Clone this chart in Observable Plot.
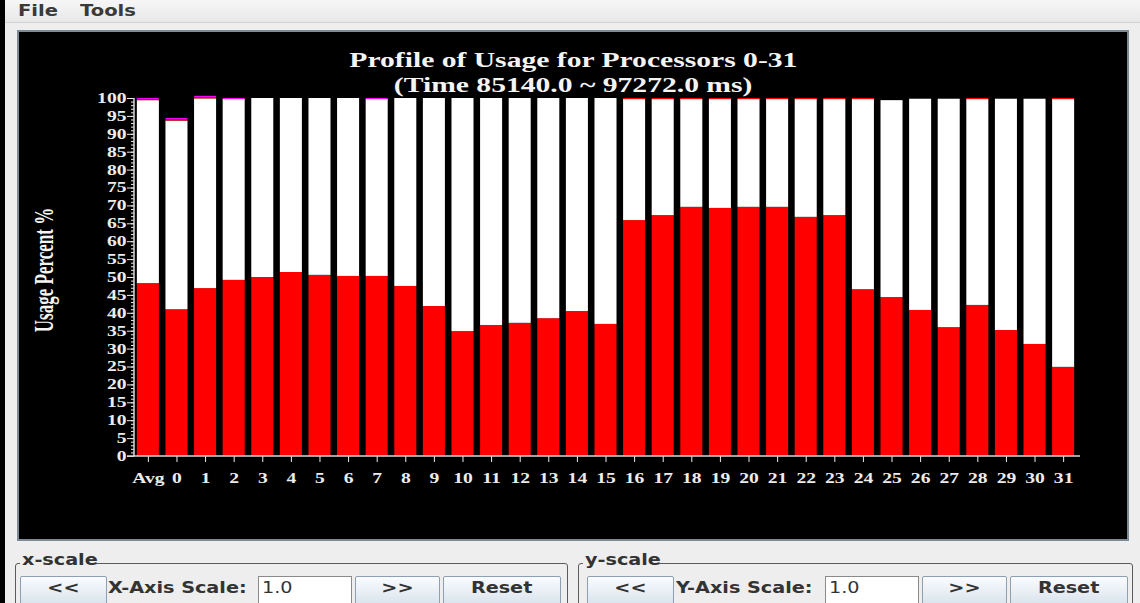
<!DOCTYPE html>
<html>
<head>
<meta charset="utf-8">
<script src="https://cdn.jsdelivr.net/npm/d3@7"></script>
<script src="https://cdn.jsdelivr.net/npm/@observablehq/plot@0.6"></script>
<style>
  html, body { margin: 0; padding: 0; width: 1140px; height: 603px; overflow: hidden; background: #eeeeee; font-family: "DejaVu Sans", sans-serif; }
  .abs { position: absolute; }
  #strip { left: 0; top: 0; width: 5px; height: 603px; background: #000; }
  #menu { left: 5px; top: 0; width: 1135px; height: 22px; background: linear-gradient(#f6f6f6, #e8e8e8); border-bottom: 1px solid #d2d2d2; }
  .mi { top: 0; line-height: 22px; font-weight: bold; font-size: 16px; color: #3a3a3a; transform: scaleX(1.22); transform-origin: left center; white-space: nowrap; }
  #panel { left: 17px; top: 30px; width: 1108px; height: 507px; background: #000; border: 2px solid #7d8b97; }
  #title { left: 17px; top: 48px; width: 1112px; text-align: center; color: #f4f4f4; font-family: "Liberation Serif", serif; font-weight: bold; font-size: 20px; line-height: 25px; z-index: 3; }
  #title span { display: inline-block; transform: scaleX(1.48); white-space: nowrap; }
  #ylabel { left: -55px; top: 259px; width: 200px; line-height: 22px; text-align: center; color: #f4f4f4; font-family: "Liberation Serif", serif; font-weight: bold; font-size: 17px; transform: scaleX(1.55) rotate(-90deg); z-index: 3; white-space: nowrap; }
  #chart { left: 17px; top: 80px; z-index: 2; }
  #chart svg { background: transparent; display: block; }
  .box { top: 563px; height: 60px; border: 1px solid #5a5a5a; border-radius: 3px; }
  .legend { top: 551px; line-height: 18px; padding: 0 2px; background: #eeeeee; font-weight: bold; font-size: 16px; color: #333; }
  .legend span, .lbl span, .btn span, .inp span { display: inline-block; transform: scaleX(1.2); white-space: nowrap; }
  .legend span, .lbl span, .inp span { transform-origin: left center; }
  .btn { top: 576px; height: 32px; box-sizing: border-box; background: linear-gradient(#fafcfe, #d6e0ea); border: 1px solid #8da0b3; border-radius: 2px; text-align: center; line-height: 22px; font-weight: bold; font-size: 16px; color: #333; }
  .lbl { top: 577px; line-height: 22px; font-weight: bold; font-size: 16px; color: #333; }
  .inp { top: 576px; height: 30px; box-sizing: border-box; background: #fff; border: 1px solid #8a8a8a; padding-left: 3px; line-height: 22px; font-size: 16px; color: #333; }
</style>
</head>
<body>
<div id="strip" class="abs"></div>
<div id="menu" class="abs">
  <div class="abs mi" style="left:13px;">File</div>
  <div class="abs mi" style="left:75px;">Tools</div>
</div>
<div id="panel" class="abs"></div>
<div id="title" class="abs">
  <div><span>Profile of Usage for Processors 0-31</span></div>
  <div><span>(Time 85140.0 ~ 97272.0 ms)</span></div>
</div>
<div id="ylabel" class="abs">Usage Percent %</div>
<div id="chart" class="abs"></div>

<div class="abs box" style="left:15px;width:551px;"></div>
<div class="abs legend" style="left:20px;"><span>x-scale</span></div>
<div class="abs btn" style="left:20px;width:87px;"><span>&lt;&lt;</span></div>
<div class="abs lbl" style="left:108px;"><span>X-Axis Scale:</span></div>
<div class="abs inp" style="left:258px;width:94px;"><span>1.0</span></div>
<div class="abs btn" style="left:355px;width:85px;"><span>&gt;&gt;</span></div>
<div class="abs btn" style="left:443px;width:118px;"><span>Reset</span></div>

<div class="abs box" style="left:578px;width:553px;"></div>
<div class="abs legend" style="left:583px;"><span>y-scale</span></div>
<div class="abs btn" style="left:587px;width:87px;"><span>&lt;&lt;</span></div>
<div class="abs lbl" style="left:676px;"><span>Y-Axis Scale:</span></div>
<div class="abs inp" style="left:825px;width:94px;"><span>1.0</span></div>
<div class="abs btn" style="left:922px;width:85px;"><span>&gt;&gt;</span></div>
<div class="abs btn" style="left:1010px;width:118px;"><span>Reset</span></div>

<script>
// ---- data ----
const procs = ["Avg", "0", "1", "2", "3", "4", "5", "6", "7", "8", "9", "10", "11", "12", "13", "14", "15",
  "16", "17", "18", "19", "20", "21", "22", "23", "24", "25", "26", "27", "28", "29", "30", "31"];
const busy = [48.3, 41.0, 46.9, 49.2, 50.0, 51.4, 50.6, 50.3, 50.3, 47.5, 41.9, 34.9, 36.6, 37.2, 38.5, 40.5, 36.9,
  65.9, 67.3, 69.6, 69.3, 69.6, 69.6, 66.8, 67.3, 46.6, 44.4, 40.8, 36.0, 42.2, 35.2, 31.3, 24.9];
const idle = [51.1, 52.7, 53.0, 50.5, 50.0, 48.6, 49.4, 49.7, 49.4, 52.5, 58.1, 65.1, 63.4, 62.8, 61.5, 59.5, 63.1,
  33.8, 32.4, 30.1, 30.4, 30.1, 30.1, 32.9, 32.4, 53.1, 55.0, 59.0, 63.8, 57.5, 64.6, 68.5, 74.8];
const overheadRed = [0.3, 0.4, 0.3, 0, 0, 0, 0, 0, 0, 0, 0, 0, 0, 0, 0, 0, 0,
  0.3, 0.3, 0.3, 0.3, 0.3, 0.3, 0.3, 0.3, 0.3, 0, 0, 0, 0.3, 0, 0, 0.3];
const overheadMagenta = [0.3, 0.3, 0.4, 0.3, 0, 0, 0, 0, 0.3, 0, 0, 0, 0, 0, 0, 0, 0,
  0, 0, 0, 0, 0, 0, 0, 0, 0, 0, 0, 0, 0, 0, 0, 0];
const seriesNames = ["Busy", "Idle", "Overhead", "Other"];
const seriesColors = ["#ff0000", "#ffffff", "#ff0000", "#ff00ff"];
const yMajorTicks = d3.range(0, 101, 5);
const yMinorTicks = d3.range(0, 101, 1);

// ---- table for the library ----
const seriesValues = [busy, idle, overheadRed, overheadMagenta];
const rows = [];
procs.forEach((p, i) => {
  seriesNames.forEach((s, k) => rows.push({proc: p, series: s, value: seriesValues[k][i]}));
});

function axisLines(index, scales, values, dimensions) {
  const {y} = scales;
  const {marginLeft, width, marginRight} = dimensions;
  const g = d3.create("svg:g").attr("stroke", "#d8d8d8").attr("stroke-width", 1.5);
  g.append("line").attr("x1", marginLeft).attr("x2", marginLeft).attr("y1", y(100)).attr("y2", y(0));
  g.append("line").attr("x1", marginLeft - 7).attr("x2", width - marginRight + 3).attr("y1", y(0)).attr("y2", y(0));
  return g.node();
}

const chart = Plot.plot({
  width: 1112,
  height: 420,
  marginLeft: 117,
  marginRight: 52,
  marginTop: 18,
  marginBottom: 44,
  style: "background: transparent; color: #ececec; font-family: 'Liberation Serif', serif; font-weight: bold; font-size: 14px;",
  x: {domain: procs, paddingInner: 0.23, paddingOuter: 0.1, round: false, label: null},
  y: {domain: [0, 100], label: null},
  color: {domain: seriesNames, range: seriesColors},
  marks: [
    Plot.barY(rows, {x: "proc", y: "value", fill: "series", order: seriesNames}),
    Plot.axisY({ticks: yMinorTicks, tickSize: 3, tickFormat: () => "", label: null}),
    Plot.axisY({ticks: yMajorTicks, tickSize: 7, tickPadding: 1, label: null}),
    Plot.axisX({tickSize: 6, tickPadding: 11, label: null}),
    axisLines
  ]
});
document.getElementById("chart").append(chart);

// horizontally stretch tick labels like the reference's rendering
const S = 1.4;
chart.querySelectorAll("text").forEach((t) => {
  if (!t.textContent) return;
  const g = document.createElementNS("http://www.w3.org/2000/svg", "g");
  t.parentNode.insertBefore(g, t);
  g.appendChild(t);
  const b = g.getBBox();
  const anchor = getComputedStyle(t).textAnchor;
  const ax = anchor === "end" ? b.x + b.width : anchor === "middle" ? b.x + b.width / 2 : b.x;
  g.setAttribute("transform", `translate(${ax},0) scale(${S},1) translate(${-ax},0)`);
});
</script>
</body>
</html>
